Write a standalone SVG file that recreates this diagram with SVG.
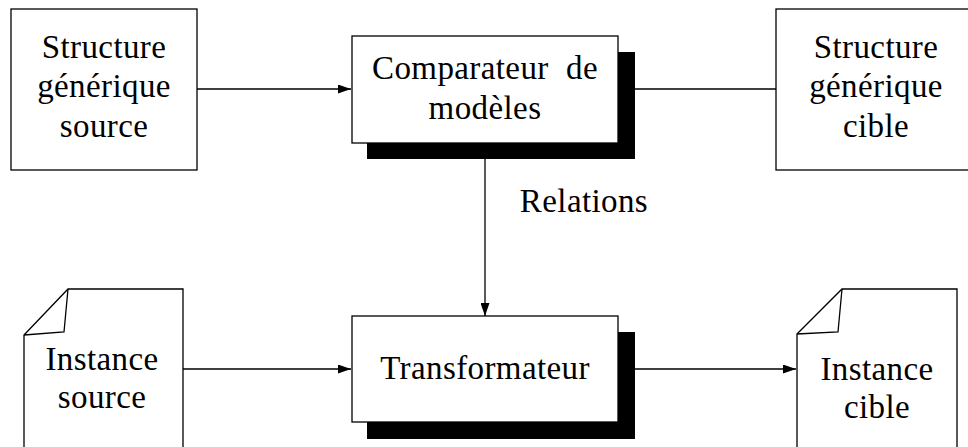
<svg xmlns="http://www.w3.org/2000/svg" width="968" height="447" viewBox="0 0 968 447">
<style>
.box{fill:#fff;stroke:#000;stroke-width:1.3}
.shadow{fill:#000;stroke:none}
.t{font-family:"Liberation Serif","Times New Roman",serif;font-size:33px;letter-spacing:0.4px;fill:#000;text-anchor:middle}
.c{stroke:#000;stroke-width:1.3;fill:none}
</style>
<defs>
<marker id="ah" viewBox="0 0 13 9" refX="13" refY="4.5" markerWidth="13" markerHeight="9" markerUnits="userSpaceOnUse" orient="auto">
<path d="M0,0 L13,4.5 L0,9 Z" fill="#000"/>
</marker>
</defs>
<g id="connectors">
<line class="c" x1="197" y1="89" x2="351" y2="89" marker-end="url(#ah)"/>
<line class="c" x1="635" y1="89" x2="776" y2="89"/>
<line class="c" x1="485" y1="159" x2="485" y2="316" marker-end="url(#ah)"/>
<line class="c" x1="183" y1="369" x2="351" y2="369" marker-end="url(#ah)"/>
<line class="c" x1="635" y1="369" x2="796" y2="369" marker-end="url(#ah)"/>
<text class="t" x="584" y="212">Relations</text>
</g>
<g id="structure-source">
<rect class="box" x="11" y="9" width="186" height="161"/>
<text class="t" x="104" y="58">Structure</text>
<text class="t" x="104" y="97">générique</text>
<text class="t" x="104" y="137">source</text>
</g>
<g id="comparateur">
<rect class="shadow" x="367" y="52" width="268" height="107"/>
<rect class="box" x="352" y="36" width="266" height="107"/>
<text class="t" x="485" y="79" xml:space="preserve">Comparateur  de</text>
<text class="t" x="485" y="119">modèles</text>
</g>
<g id="structure-cible">
<rect class="box" x="776" y="9" width="200" height="161"/>
<text class="t" x="876" y="58">Structure</text>
<text class="t" x="876" y="97">générique</text>
<text class="t" x="876" y="137">cible</text>
</g>
<g id="transformateur">
<rect class="shadow" x="367" y="332" width="268" height="107"/>
<rect class="box" x="352" y="316" width="266" height="106"/>
<text class="t" x="485" y="379">Transformateur</text>
</g>
<g id="instance-source">
<path class="box" d="M24,335 L68,289 L183,289 L183,460 L24,460 Z"/>
<path class="c" d="M68,289 L64,332 L24,335"/>
<text class="t" x="102" y="370">Instance</text>
<text class="t" x="102" y="408">source</text>
</g>
<g id="instance-cible">
<path class="box" d="M797,334 L842,289 L957,289 L957,460 L797,460 Z"/>
<path class="c" d="M842,289 L838,332 L797,334"/>
<text class="t" x="877" y="380">Instance</text>
<text class="t" x="877" y="418">cible</text>
</g>
</svg>
